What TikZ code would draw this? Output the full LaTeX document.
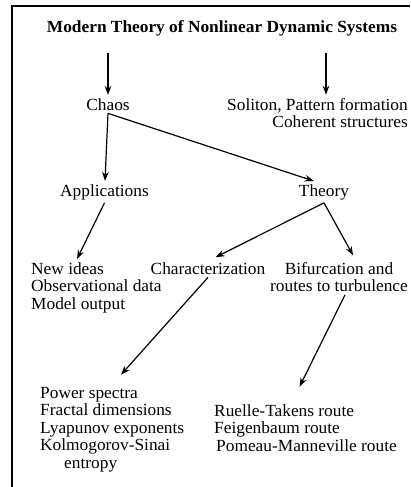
\documentclass[tikz,border=0pt]{standalone}
\usepackage{fontspec}
\setmainfont{Liberation Serif}[FakeStretch=1.02]
\usetikzlibrary{positioning,arrows.meta}

\begin{document}
\begin{tikzpicture}[x=1pt,y=-1pt]
  \tikzstyle{lbl} = [font=\fontsize{17}{17.5}\selectfont,inner sep=3pt,anchor=base]
  \tikzstyle{lst} = [lbl,align=left,anchor=base west]
  \tikzstyle{edge} = [-{Stealth[length=9pt,width=6.5pt]},line width=1.2pt]
  \useasboundingbox (0,0) rectangle (410,487);

  % frame, left and top only
  \draw[line width=1.5pt] (12,487) -- (12,6) -- (410,6);

  \node [lbl,font=\fontsize{17}{17.5}\selectfont\bfseries] (title) at (222,33) {Modern Theory of Nonlinear Dynamic Systems};

  \coordinate (tl) at (108,53);
  \coordinate (tr) at (326,53);

  % multi-line nodes sit on the baseline of their last line
  \node [lbl] (chaos) at (108,110) {Chaos};
  \node [lbl,align=right,anchor=base east] (soliton) at (411,127.5) {Soliton, Pattern formation\\Coherent structures};

  \node [lbl] (apps) at (104.5,196) {Applications};
  \node [lbl] (theory) at (324,196) {Theory};

  \node [lst] (ideas) at (28,309) {New ideas\\Observational data\\Model output};
  \node [lbl] (charz) at (208,274) {Characterization};
  \node [lbl,align=center] (bifur) at (339,291.5) {Bifurcation and\\routes to turbulence};

  \node [lst] (spec) at (37,468) {Power spectra\\Fractal dimensions\\Lyapunov exponents\\Kolmogorov-Sinai\\\hspace*{24pt}entropy};
  \node [lst] (routes) at (211,451) {Ruelle-Takens route\\Feigenbaum route\\\hspace*{2pt}Pomeau-Manneville route};

  \draw[edge] (tl) -- (chaos);
  \draw[edge] (tr) -- (tr |- soliton.north);
  \draw[edge] (chaos.south) -- (apps);
  \draw[edge] (chaos.south) -- ([xshift=18pt]theory.north west);
  \draw[edge] (apps.south) -- ([xshift=49pt]ideas.north west);
  \draw[edge,shorten >=4pt] (theory.south) -- ([xshift=4pt]charz.north);
  \draw[edge,shorten >=4pt] (theory.south) -- ([xshift=16pt]bifur.north);
  \draw[edge,shorten >=12pt] (charz.south) -- ([xshift=76pt]spec.north west);
  \draw[edge,shorten >=16pt] ([xshift=6pt]bifur.south) -- ([xshift=81.5pt]routes.north west);
\end{tikzpicture}
\end{document}
